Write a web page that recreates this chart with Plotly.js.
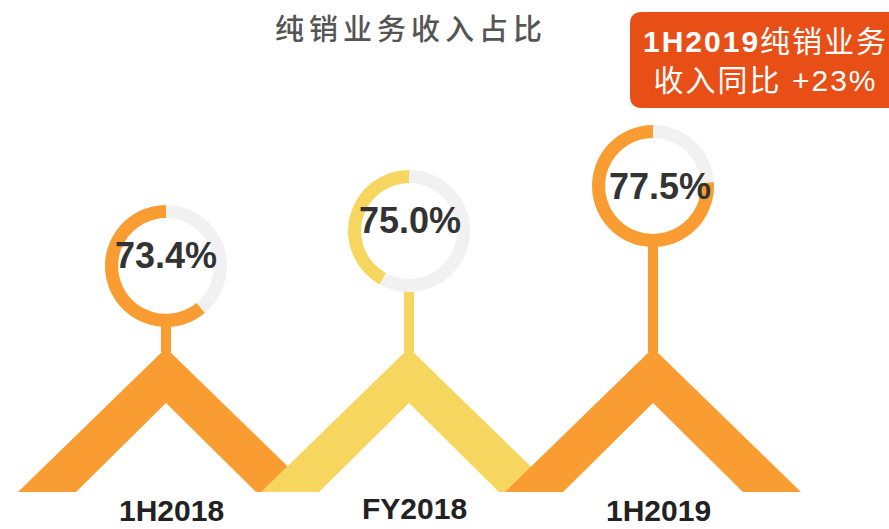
<!DOCTYPE html>
<html>
<head>
<meta charset="utf-8">
<script src="https://cdn.plot.ly/plotly-3.0.1.min.js"></script>
<style>html,body{margin:0;padding:0;background:#fff;}#chart{width:889px;height:529px;}</style>
</head>
<body>
<div id="chart"></div>
<script>
// ---- data ----
const categories = ['1H2018', 'FY2018', '1H2019'];
const shareLabels = [73.4, 75.0, 77.5];          // percentage printed in each ring
const arcFilled = [61, 42, 76];                  // coloured share of each ring as drawn
const titleText = '纯销业务收入占比';
const calloutLines = ['1H2019纯销业务', '收入同比 +23%'];

// ---- styling / geometry ----
const W = 889, H = 529;
const colors = ['#F99D33', '#F7D660', '#F99D33'];
const ringGrey = '#F1F1F1';
const centerX = [166, 409, 653];
const ringY = [266, 231, 186];
const ringR = 61;
const textDx = [0, 1, 7], textDy = [-11, -11, 0];
const apexY = 348, innerApexY = 403, baseY = 492;
const outerHalf = 148, innerHalf = 90;

const traces = [];
// chevrons
categories.forEach((c, i) => {
  const cx = centerX[i];
  traces.push({
    type: 'scatter', mode: 'lines', fill: 'toself',
    x: [cx - outerHalf, cx, cx + outerHalf, cx + innerHalf, cx, cx - innerHalf, cx - outerHalf],
    y: [baseY, apexY, baseY, baseY, innerApexY, baseY, baseY],
    fillcolor: colors[i], line: {width: 0, color: colors[i]},
    hoverinfo: 'skip', showlegend: false
  });
});
// stems
categories.forEach((c, i) => {
  traces.push({
    type: 'scatter', mode: 'lines',
    x: [centerX[i], centerX[i]], y: [ringY[i] + ringR - 4, apexY + 4],
    line: {width: 10, color: colors[i]},
    hoverinfo: 'skip', showlegend: false
  });
});
// rings: grey remainder runs clockwise from 12 o'clock, coloured share fills the rest
categories.forEach((c, i) => {
  const cx = centerX[i], cy = ringY[i];
  traces.push({
    type: 'pie', values: [100 - arcFilled[i], arcFilled[i]],
    labels: [c + ' rest', c + ' share'],
    hole: 0.785, sort: false, direction: 'clockwise', rotation: 0,
    marker: {colors: [ringGrey, colors[i]], line: {width: 0}},
    textinfo: 'none', hoverinfo: 'skip', showlegend: false,
    domain: {x: [(cx - ringR) / W, (cx + ringR) / W], y: [1 - (cy + ringR) / H, 1 - (cy - ringR) / H]}
  });
});

const annotations = [];
categories.forEach((c, i) => {
  annotations.push({
    x: centerX[i] + textDx[i], y: ringY[i] + textDy[i], xref: 'x', yref: 'y',
    text: shareLabels[i].toFixed(1) + '%', showarrow: false,
    font: {family: 'Liberation Sans, Arial, sans-serif', size: 36, color: '#333333', weight: 700}
  });
  annotations.push({
    x: centerX[i] + 5, y: i === 1 ? 508 : 510, xref: 'x', yref: 'y',
    text: c, showarrow: false, borderpad: 0,
    font: {family: 'Liberation Sans, Arial, sans-serif', size: 30, color: '#222222', weight: 700}
  });
});
annotations.push({
  x: 411, y: 27, xref: 'x', yref: 'y', text: titleText, showarrow: false,
  font: {family: 'Noto Sans CJK SC, sans-serif', size: 29, color: '#555555', weight: 500}
});
annotations.push({
  x: 765, y: 61, xref: 'x', yref: 'y', showarrow: false, align: 'center',
  text: '<b>' + calloutLines[0].slice(0, 6) + '</b>' + calloutLines[0].slice(6) + '<br>' + calloutLines[1],
  font: {family: 'Liberation Sans, Noto Sans CJK SC, sans-serif', size: 30, color: '#FFFFFF'}
});

const bx0 = 630, bx1 = 900, by0 = 12, by1 = 108, rr = 12;
const boxPath = `M ${bx0 + rr},${by0} L ${bx1 - rr},${by0} Q ${bx1},${by0} ${bx1},${by0 + rr} L ${bx1},${by1 - rr} Q ${bx1},${by1} ${bx1 - rr},${by1} L ${bx0 + rr},${by1} Q ${bx0},${by1} ${bx0},${by1 - rr} L ${bx0},${by0 + rr} Q ${bx0},${by0} ${bx0 + rr},${by0} Z`;

const layout = {
  width: W, height: H, margin: {l: 0, r: 0, t: 0, b: 0},
  paper_bgcolor: '#FFFFFF', plot_bgcolor: '#FFFFFF',
  xaxis: {range: [0, W], visible: false, fixedrange: true},
  yaxis: {range: [H, 0], visible: false, fixedrange: true},
  showlegend: false,
  shapes: [{type: 'path', path: boxPath, xref: 'x', yref: 'y', fillcolor: '#E84F17', line: {width: 0}, layer: 'below'}],
  annotations: annotations
};

Plotly.newPlot('chart', traces, layout, {staticPlot: true}).then(() => {
  const texts = document.querySelectorAll('.annotation-text');
  texts.forEach(t => {
    const s = t.textContent;
    if (s === titleText) { t.style.letterSpacing = '5px'; }
    else if (s.indexOf('纯销业务') >= 0 && s.indexOf('1H2019') >= 0) { t.style.letterSpacing = '2px'; }
  });
});
</script>
</body>
</html>
